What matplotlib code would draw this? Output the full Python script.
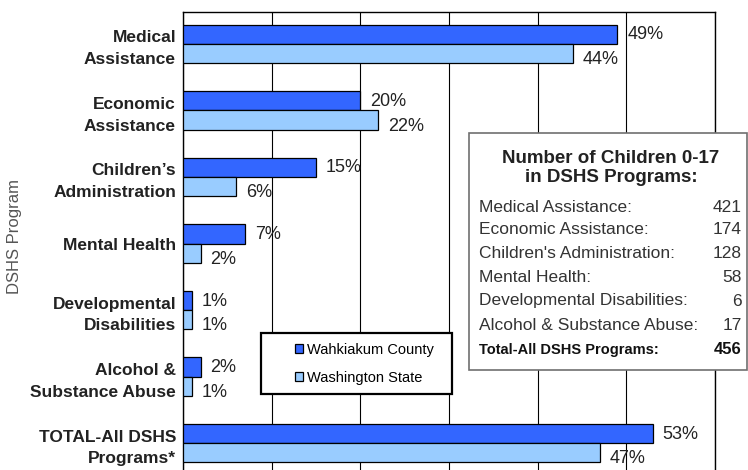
import matplotlib
matplotlib.use("Agg")
import matplotlib.pyplot as plt
from matplotlib.patches import Rectangle, Patch
import numpy as np

categories = ["Medical\nAssistance", "Economic\nAssistance", "Children\u2019s\nAdministration",
              "Mental Health", "Developmental\nDisabilities", "Alcohol &\nSubstance Abuse",
              "TOTAL-All DSHS\nPrograms*"]
county = [49, 20, 15, 7, 1, 2, 53]
state = [44, 22, 6, 2, 1, 1, 47]
series_names = ["Wahkiakum County", "Washington State"]

box_title = "Number of Children 0-17\nin DSHS Programs:"
box_names = ["Medical Assistance:", "Economic Assistance:", "Children's Administration:",
             "Mental Health:", "Developmental Disabilities:", "Alcohol & Substance Abuse:"]
box_counts = [421, 174, 128, 58, 6, 17]
box_total_name = "Total-All DSHS Programs:"
box_total = 456

NARROW = ["Liberation Sans", "DejaVu Sans"]
ARIAL = ["Liberation Sans", "DejaVu Sans"]

dark = "#3366FF"
light = "#99CCFF"

W, H = 748, 470
fig = plt.figure(figsize=(W / 100, H / 100), dpi=100)
ax = fig.add_axes([183 / W, 1 - 475 / H, (715 - 183) / W, (475 - 12) / H])

y = np.arange(len(categories))
bh = 0.29
ax.barh(y - bh / 2, county, height=bh, color=dark, edgecolor="black", linewidth=0.9, zorder=3)
ax.barh(y + bh / 2, state, height=bh, color=light, edgecolor="black", linewidth=0.9, zorder=3)

for yi, v in zip(y, county):
    ax.text(v + 1.1, yi - bh / 2 + 0.01, f"{v}%", va="center", ha="left", fontsize=13,
            family=NARROW, color="#222222")
for yi, v in zip(y, state):
    ax.text(v + 1.1, yi + bh / 2 + 0.09, f"{v}%", va="center", ha="left", fontsize=13,
            family=NARROW, color="#222222")

ax.set_xlim(0, 60)
ax.set_ylim(len(categories) - 0.52, -0.48)
ax.set_xticks(np.arange(0, 61, 10))
ax.xaxis.grid(True, color="black", linewidth=0.8, zorder=0)
ax.tick_params(axis="x", length=0, labelbottom=False)
ax.set_yticks(y)
ax.set_yticklabels(categories, fontsize=12.5, fontweight="bold", family=NARROW,
                   color="#222222", linespacing=1.55)
ax.tick_params(axis="y", length=0, pad=5)
for lbl in ax.get_yticklabels():
    lbl.set_y(lbl.get_position()[1])
for s in ax.spines.values():
    s.set_color("black")
    s.set_linewidth(1.0)

fig.text(15 / W, 1 - 236 / H, "DSHS Program", rotation=90, va="center", ha="center",
         fontsize=12, family=NARROW, color="#555555")

# legend (frame drawn separately)
fig.patches.append(Rectangle((261 / W, 1 - 394 / H), (452 - 261) / W, (394 - 333) / H,
                             transform=fig.transFigure, facecolor="white",
                             edgecolor="black", linewidth=1.6, zorder=4))
handles = [Patch(facecolor=dark, edgecolor="black", linewidth=0.9),
           Patch(facecolor=light, edgecolor="black", linewidth=0.9)]
leg = fig.legend(handles, series_names, loc="upper left",
                 bbox_to_anchor=(295 / W, 1 - 343 / H), frameon=False,
                 prop={"family": ARIAL, "size": 10.5}, handlelength=0.55, handleheight=0.55,
                 handletextpad=0.25, labelspacing=0.95, borderpad=0, borderaxespad=0)
leg.set_zorder(5)

# text box
bx0, by0, bx1, by1 = 469, 133, 747, 370
fig.patches.append(Rectangle((bx0 / W, 1 - by1 / H), (bx1 - bx0) / W, (by1 - by0) / H,
                             transform=fig.transFigure, facecolor="white",
                             edgecolor="#707070", linewidth=1.2, zorder=5))
fig.text((bx0 + bx1) / 2 / W + 0.004, 1 - 168 / H, box_title, ha="center", va="center",
         fontsize=13.5, fontweight="bold", family=NARROW, color="#222222",
         linespacing=1.1, zorder=6)
rows_y = [207, 230, 254, 277, 301, 326, 350]
for ry, name, cnt in zip(rows_y, box_names, box_counts):
    fig.text(479 / W, 1 - ry / H, name, ha="left", va="center", fontsize=12.5,
             family=NARROW, color="#333333", zorder=6)
    fig.text(742 / W, 1 - ry / H, str(cnt), ha="right", va="center", fontsize=12.5,
             family=NARROW, color="#333333", zorder=6)
fig.text(479 / W, 1 - rows_y[-1] / H, box_total_name, ha="left", va="center", fontsize=10.5,
         fontweight="bold", family=NARROW, color="#111111", zorder=6)
fig.text(742 / W, 1 - rows_y[-1] / H, str(box_total), ha="right", va="center", fontsize=12,
         fontweight="bold", family=NARROW, color="#111111", zorder=6)

fig.savefig("out.png", dpi=100)
